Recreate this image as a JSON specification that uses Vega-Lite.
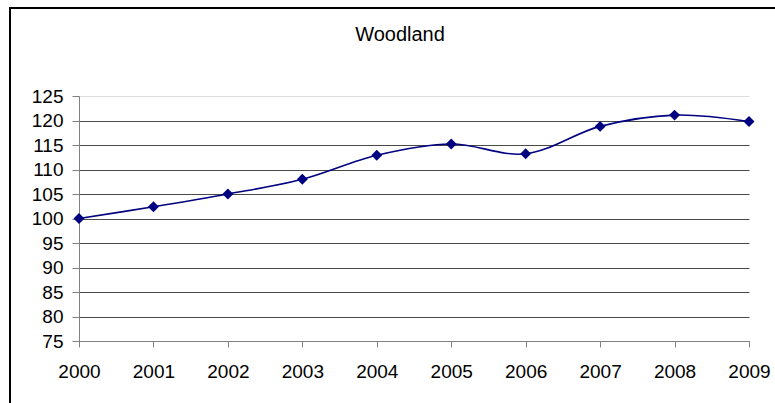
{
  "$schema": "https://vega.github.io/schema/vega-lite/v6.json",
  "autosize": "none",
  "padding": {"left": 10, "top": 8, "right": 0, "bottom": 0},
  "width": 780,
  "height": 410,
  "background": "white",
  "config": {
    "view": {"stroke": "#000000", "strokeWidth": 2},
    "font": "Liberation Sans",
    "axis": {"labelFont": "Liberation Sans", "labelColor": "#000000", "labelFontSize": 19}
  },
  "title": {
    "text": "Woodland",
    "font": "Liberation Sans",
    "fontSize": 20,
    "fontWeight": "normal",
    "color": "#000000",
    "anchor": "middle",
    "offset": -37
  },
  "data": {
    "values": [
      {"year": 2000, "index": 100.0},
      {"year": 2001, "index": 102.4},
      {"year": 2002, "index": 105.0},
      {"year": 2003, "index": 108.0},
      {"year": 2004, "index": 112.9},
      {"year": 2005, "index": 115.2},
      {"year": 2006, "index": 113.2},
      {"year": 2007, "index": 118.8},
      {"year": 2008, "index": 121.1},
      {"year": 2009, "index": 119.8}
    ]
  },
  "encoding": {
    "x": {
      "field": "year",
      "type": "quantitative",
      "scale": {"domain": [2000, 2009], "range": [69, 739], "nice": false, "zero": false},
      "axis": {
        "title": null,
        "orient": "bottom",
        "offset": -77,
        "values": [2000, 2001, 2002, 2003, 2004, 2005, 2006, 2007, 2008, 2009],
        "format": "d",
        "grid": false,
        "labelFlush": false,
        "labelOverlap": false,
        "labelBound": false,
        "domainColor": "#808080",
        "tickColor": "#808080",
        "tickSize": 6,
        "labelPadding": 15
      }
    },
    "y": {
      "field": "index",
      "type": "quantitative",
      "scale": {"domain": [75, 125], "range": [333, 88], "nice": false, "zero": false},
      "axis": {
        "title": null,
        "orient": "left",
        "offset": -69,
        "values": [75, 80, 85, 90, 95, 100, 105, 110, 115, 120, 125],
        "grid": true,
        "labelFlush": false,
        "labelOverlap": false,
        "gridColor": {
          "condition": {"test": "datum.value == 125", "value": "#dddddd"},
          "value": "#4a4a4a"
        },
        "domainColor": "#808080",
        "tickColor": "#808080",
        "tickSize": 7,
        "labelPadding": 9
      }
    }
  },
  "layer": [
    {
      "mark": {"type": "line", "interpolate": "catmull-rom", "color": "#000080", "strokeWidth": 1.6}
    },
    {
      "mark": {"type": "point", "shape": "diamond", "filled": true, "size": 120, "color": "#000080", "opacity": 1}
    }
  ]
}
